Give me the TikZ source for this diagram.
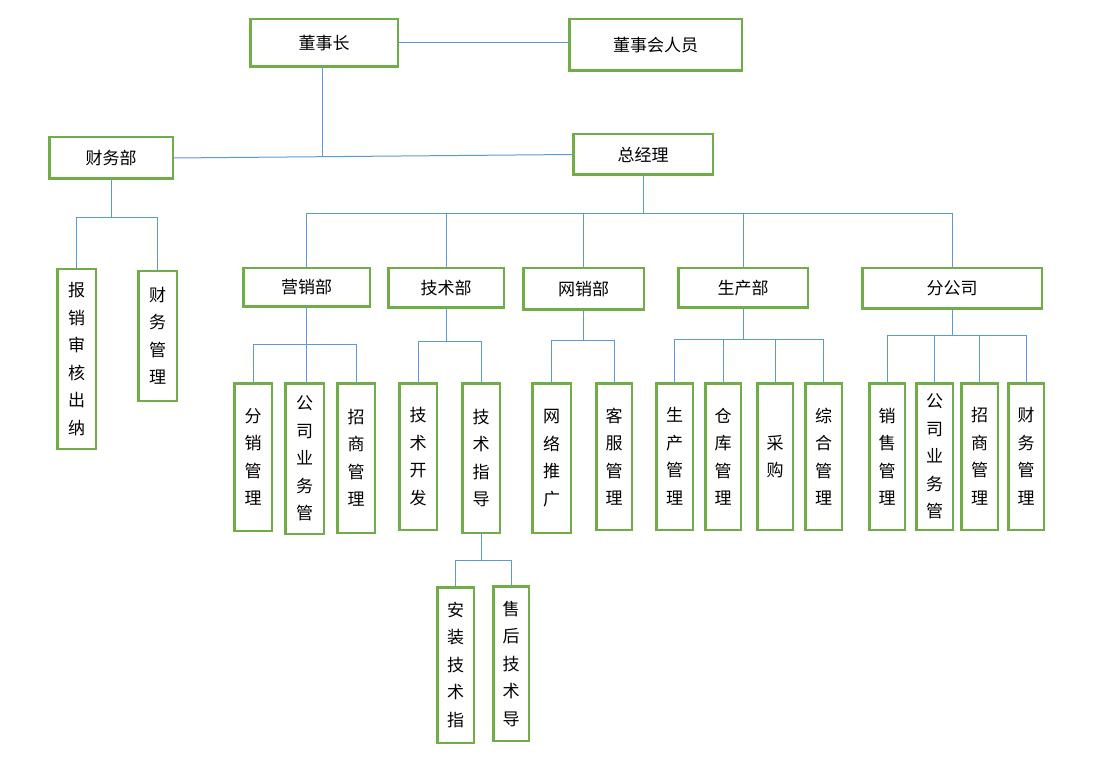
\documentclass[tikz,border=0pt]{standalone}
\usepackage{fontspec}
\newfontfamily\cjk{Noto Sans CJK SC}
\definecolor{lineblue}{HTML}{5B9BD5}
\definecolor{boxgreen}{HTML}{70AD47}
\begin{document}
\begin{tikzpicture}[x=1pt,y=-1pt,
  orgbox/.style={draw=boxgreen, line width=2.5pt, rectangle, inner sep=0pt, outer sep=0pt, align=center,
    font=\cjk\fontsize{17}{27.5}\selectfont},
  conn/.style={draw=lineblue, line width=1pt}]
\useasboundingbox[fill=white] (0,0) rectangle (1093,770);
% top level
\node[orgbox, minimum width=147.5pt, minimum height=47.5pt] (dsz) at (324,43) {董事长};
\node[orgbox, minimum width=172.5pt, minimum height=51.5pt] (dshry) at (655.5,45) {董事会人员};
\node[orgbox, minimum width=123.5pt, minimum height=41.5pt] (cwb) at (111,158) {财务部};
\node[orgbox, minimum width=139.5pt, minimum height=40.5pt] (zjl) at (643,154.5) {总经理};
% finance sub
\node[orgbox, minimum width=38.5pt, minimum height=179.5pt] (bxsh) at (76.5,359) {报\\销\\审\\核\\出\\纳};
\node[orgbox, minimum width=38.5pt, minimum height=129.5pt] (cwgl) at (157.5,336) {财\\务\\管\\理};
% departments
\node[orgbox, minimum width=126.5pt, minimum height=38.5pt] (yxb) at (306.5,287.5) {营销部};
\node[orgbox, minimum width=115.5pt, minimum height=39.5pt] (jsb) at (446,288) {技术部};
\node[orgbox, minimum width=120.5pt, minimum height=41.5pt] (wxb) at (583.5,289) {网销部};
\node[orgbox, minimum width=129.5pt, minimum height=39.5pt] (scb) at (743,288) {生产部};
\node[orgbox, minimum width=179.5pt, minimum height=40.5pt] (fgs) at (952,288.5) {分公司};
% third level
\node[orgbox, minimum width=37.5pt, minimum height=147.5pt] (fxgl) at (253,457) {分\\销\\管\\理};
\node[orgbox, minimum width=38.5pt, minimum height=150.5pt] (gsywa) at (304.5,458.5) {公\\司\\业\\务\\管};
\node[orgbox, minimum width=37.5pt, minimum height=149.5pt] (zsgla) at (356,458) {招\\商\\管\\理};
\node[orgbox, minimum width=37.5pt, minimum height=146.5pt] (jskf) at (418,456.5) {技\\术\\开\\发};
\node[orgbox, minimum width=37.5pt, minimum height=149.5pt] (jszd) at (481,458) {技\\术\\指\\导};
\node[orgbox, minimum width=38.5pt, minimum height=149.5pt] (wltg) at (551.5,458) {网\\络\\推\\广};
\node[orgbox, minimum width=35.5pt, minimum height=146.5pt] (kfgl) at (614,456.5) {客\\服\\管\\理};
\node[orgbox, minimum width=36.5pt, minimum height=146.5pt] (scgl) at (674.5,456.5) {生\\产\\管\\理};
\node[orgbox, minimum width=35.5pt, minimum height=146.5pt] (ckgl) at (723,456.5) {仓\\库\\管\\理};
\node[orgbox, minimum width=35.5pt, minimum height=146.5pt] (cg) at (775,456.5) {采\\购};
\node[orgbox, minimum width=36.5pt, minimum height=146.5pt] (zhgl) at (823.5,456.5) {综\\合\\管\\理};
\node[orgbox, minimum width=35.5pt, minimum height=146.5pt] (xsgl) at (887,456.5) {销\\售\\管\\理};
\node[orgbox, minimum width=36.5pt, minimum height=146.5pt] (gsywb) at (934.5,456.5) {公\\司\\业\\务\\管};
\node[orgbox, minimum width=36.5pt, minimum height=146.5pt] (zsglb) at (979.5,456.5) {招\\商\\管\\理};
\node[orgbox, minimum width=35.5pt, minimum height=146.5pt] (cwglb) at (1026,456.5) {财\\务\\管\\理};
% fourth level
\node[orgbox, minimum width=36.5pt, minimum height=155.5pt] (azjs) at (455.5,665) {安\\装\\技\\术\\指};
\node[orgbox, minimum width=35.5pt, minimum height=154.5pt] (shjs) at (511,663.5) {售\\后\\技\\术\\导};
% bus coordinates
\coordinate (jtop) at (322,156);
\coordinate (buscw) at (0,218);
\coordinate (busmain) at (0,214);
\coordinate (busyx) at (0,344);
\coordinate (busjs) at (0,341);
\coordinate (buswx) at (0,340);
\coordinate (bussc) at (0,339);
\coordinate (busfg) at (0,335);
\coordinate (buszd) at (0,560);
% connectors
\draw[conn] (dsz.east) -- (dsz.east -| dshry.west);
\draw[conn] (dsz.south -| jtop) -- (jtop);
\draw[conn] (cwb.east) -- (zjl.west);
% finance
\draw[conn] (cwb.south) -- (cwb.south |- buscw);
\draw[conn] (bxsh.north) -- (bxsh.north |- buscw) -- (cwgl.north |- buscw) -- (cwgl.north);
% main bus
\draw[conn] (zjl.south) -- (zjl.south |- busmain);
\draw[conn] (yxb.north) -- (yxb.north |- busmain) -- (fgs.north |- busmain) -- (fgs.north);
\draw[conn] (jsb.north) -- (jsb.north |- busmain);
\draw[conn] (wxb.north) -- (wxb.north |- busmain);
\draw[conn] (scb.north) -- (scb.north |- busmain);
% marketing
\draw[conn] (yxb.south) -- (gsywa.north -| yxb.south);
\draw[conn] (fxgl.north) -- (fxgl.north |- busyx) -- (zsgla.north |- busyx) -- (zsgla.north);
% tech
\draw[conn] (jsb.south) -- (jsb.south |- busjs);
\draw[conn] (jskf.north) -- (jskf.north |- busjs) -- (jszd.north |- busjs) -- (jszd.north);
% online
\draw[conn] (wxb.south) -- (wxb.south |- buswx);
\draw[conn] (wltg.north) -- (wltg.north |- buswx) -- (kfgl.north |- buswx) -- (kfgl.north);
% production
\draw[conn] (scb.south) -- (scb.south |- bussc);
\draw[conn] (scgl.north) -- (scgl.north |- bussc) -- (zhgl.north |- bussc) -- (zhgl.north);
\draw[conn] (ckgl.north) -- (ckgl.north |- bussc);
\draw[conn] (cg.north) -- (cg.north |- bussc);
% branch
\draw[conn] (fgs.south) -- (fgs.south |- busfg);
\draw[conn] (xsgl.north) -- (xsgl.north |- busfg) -- (cwglb.north |- busfg) -- (cwglb.north);
\draw[conn] (gsywb.north) -- (gsywb.north |- busfg);
\draw[conn] (zsglb.north) -- (zsglb.north |- busfg);
% tech guidance
\draw[conn] (jszd.south) -- (jszd.south |- buszd);
\draw[conn] (azjs.north) -- (azjs.north |- buszd) -- (shjs.north |- buszd) -- (shjs.north);
\end{tikzpicture}
\end{document}
